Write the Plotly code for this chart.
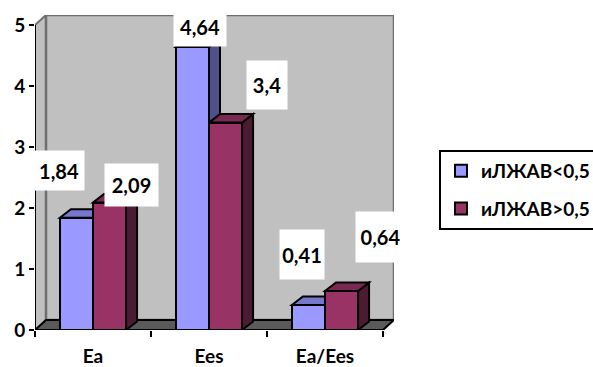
import plotly.graph_objects as go

# Chart data
categories = ["Ea", "Ees", "Ea/Ees"]
series_names = ["иЛЖАВ<0,5", "иЛЖАВ>0,5"]
values_low = [1.84, 4.64, 0.41]
values_high = [2.09, 3.4, 0.64]
y_ticks = [0, 1, 2, 3, 4, 5]

# Page / plot geometry (pixels)
W, H = 593, 367
ML, MR, MT, MB = 35, 199, 15, 37
PW, PH = W - ML - MR, H - MT - MB
DEPTH_PX_X, DEPTH_PX_Y = 11, 10

n_cat = len(categories)
y_max = max(y_ticks)
DX = DEPTH_PX_X * n_cat / (PW - DEPTH_PX_X)
DY = DEPTH_PX_Y * y_max / (PH - DEPTH_PX_Y)
BX, BY = DX, DY * 0.85

BAR_W = 0.285
FONT = "Lato"
EDGE = 2

front_cols = ["#9999ff", "#993366"]
top_cols = ["#7777cc", "#7a2952"]
side_cols = ["#50508a", "#4d1a33"]

def fmt(v):
    return f"{v:g}".replace(".", ",")

def poly(pts):
    return "M " + " L ".join(f"{x},{y}" for x, y in pts) + " Z"

shapes = []
# side wall, back wall, floor
shapes.append(dict(type="path", xref="x", yref="y", layer="below",
                   path=poly([(0, 0), (0, y_max), (DX, y_max + DY), (DX, DY)]),
                   fillcolor="#c0c0c0", line=dict(color="#6e6e6e", width=2)))
shapes.append(dict(type="rect", xref="x", yref="y", layer="below",
                   x0=DX, y0=DY, x1=n_cat + DX, y1=y_max + DY,
                   fillcolor="#c0c0c0", line=dict(color="#6e6e6e", width=2.5)))
shapes.append(dict(type="path", xref="x", yref="y", layer="below",
                   path=poly([(0, 0), (n_cat, 0), (n_cat + DX, DY), (DX, DY)]),
                   fillcolor="#5a5a5a", line=dict(color="black", width=EDGE)))

# 3D faces (top and right side) of every bar
series = [values_low, values_high]
offsets = [-BAR_W / 2, BAR_W / 2]
for i in range(n_cat):
    for s, vals in enumerate(series):
        c = i + 0.5 + offsets[s]
        x0, x1, v = c - BAR_W / 2, c + BAR_W / 2, vals[i]
        shapes.append(dict(type="path", xref="x", yref="y", layer="below",
                           path=poly([(x1, 0), (x1, v), (x1 + BX, v + BY), (x1 + BX, BY)]),
                           fillcolor=side_cols[s], line=dict(color="black", width=EDGE)))
        shapes.append(dict(type="path", xref="x", yref="y", layer="below",
                           path=poly([(x0, v), (x1, v), (x1 + BX, v + BY), (x0 + BX, v + BY)]),
                           fillcolor=top_cols[s], line=dict(color="black", width=EDGE)))

# front axis lines
shapes.append(dict(type="line", xref="x", yref="y", x0=0, y0=0, x1=0, y1=y_max,
                   line=dict(color="black", width=2)))
shapes.append(dict(type="line", xref="x", yref="y", x0=0, y0=0, x1=n_cat, y1=0,
                   line=dict(color="black", width=2)))

fig = go.Figure()
for s, vals in enumerate(series):
    fig.add_trace(go.Bar(
        x=[i + 0.5 + offsets[s] for i in range(n_cat)], y=vals, width=BAR_W,
        name=f"<b>{series_names[s]}</b>", legendgroup=f"g{s}",
        marker=dict(color=front_cols[s], line=dict(color="black", width=EDGE)),
        hoverinfo="skip"))

# value labels in white boxes
label_shift = [[(-17, 47), (8, 20), (-6, 50)], [(22, 18), (41, 38), (39, 54)]]
label_size = [[(48, 37), (50, 37), (42, 47)], [(51, 40), (38, 46), (47, 48)]]
annotations = []
for s, vals in enumerate(series):
    for i, v in enumerate(vals):
        xs, ys = label_shift[s][i]
        w, h = label_size[s][i]
        annotations.append(dict(
            x=i + 0.5 + offsets[s], y=v, xref="x", yref="y",
            text=f"<b>{fmt(v)}</b>", showarrow=False,
            xshift=xs, yshift=ys, width=w, height=h,
            bgcolor="white", font=dict(family=FONT, size=20, color="black")))

fig.update_layout(
    width=W, height=H,
    margin=dict(l=ML, r=MR, t=MT, b=MB, autoexpand=False),
    paper_bgcolor="white", plot_bgcolor="white",
    barmode="overlay", bargap=0,
    showlegend=True,
    legend=dict(x=(439 - ML) / PW, y=(H - MB - 150) / PH, xanchor="left", yanchor="top",
                bgcolor="white", bordercolor="black", borderwidth=2,
                font=dict(family=FONT, size=19, color="black"),
                tracegroupgap=10, traceorder="grouped", itemwidth=30),
    shapes=shapes, annotations=annotations,
    xaxis=dict(range=[0, n_cat + DX], tickvals=[i + 0.5 for i in range(n_cat)],
               ticktext=[f"<b>{c}</b>" for c in categories], ticks="",
               showgrid=False, zeroline=False, showline=False,
               tickfont=dict(family=FONT, size=19, color="black"),
               ticklabelstandoff=13,
               minor=dict(tickvals=list(range(n_cat + 1)), ticks="outside",
                          ticklen=6, tickwidth=2, tickcolor="black", showgrid=False)),
    yaxis=dict(range=[0, y_max + DY], tickvals=y_ticks,
               ticktext=[f"<b>{t}</b>" for t in y_ticks],
               ticks="outside", ticklen=5, tickwidth=2, tickcolor="black",
               showgrid=False, zeroline=False, showline=False,
               tickfont=dict(family=FONT, size=19, color="black")),
)

fig.write_html("out.html")
